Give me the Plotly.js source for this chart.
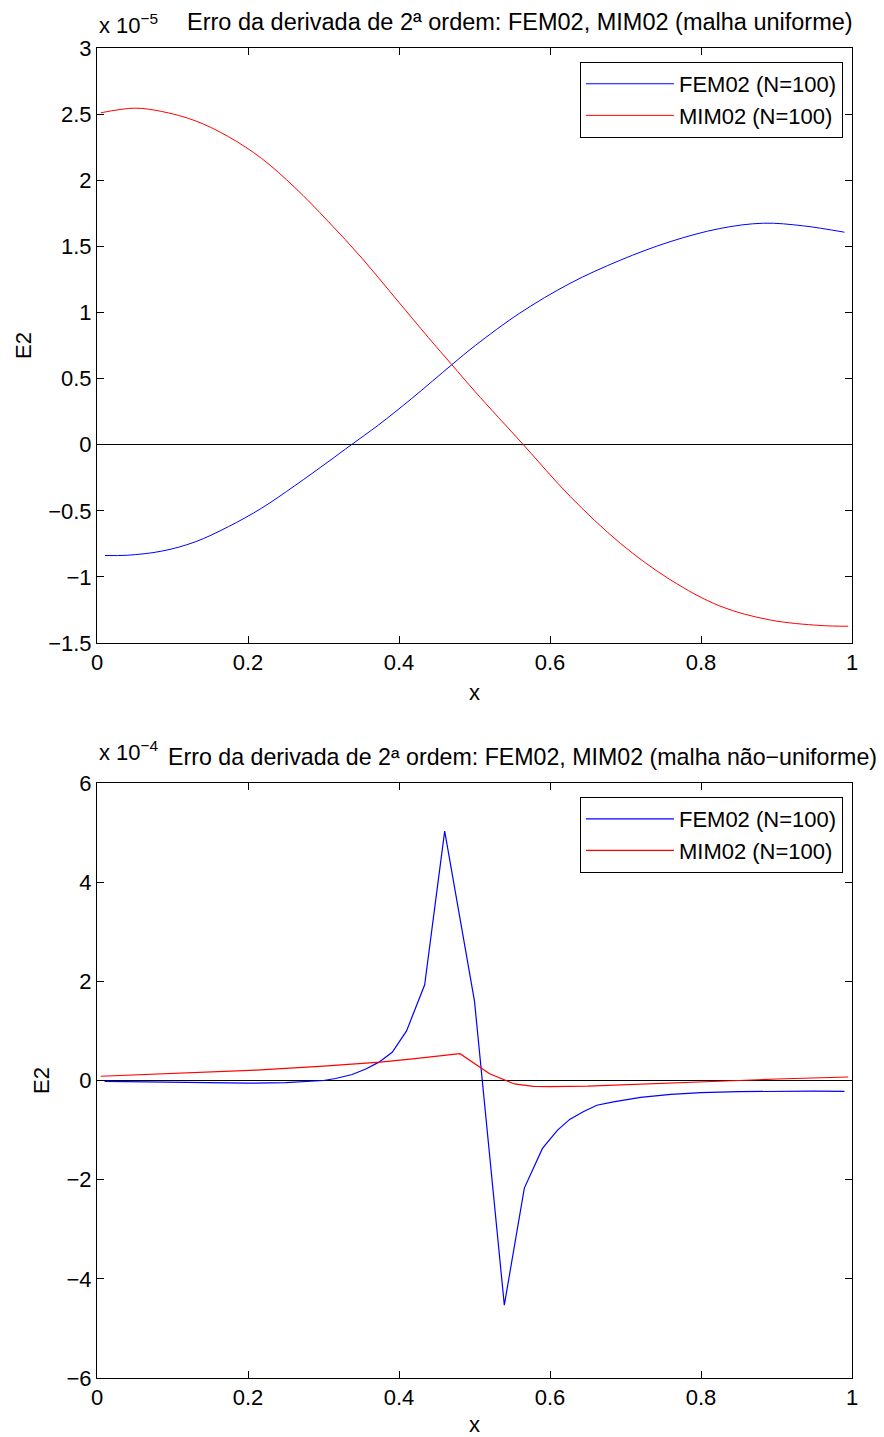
<!DOCTYPE html>
<html>
<head>
<meta charset="utf-8">
<script src="https://cdn.plot.ly/plotly-3.0.1.min.js"></script>
<style>html,body{margin:0;padding:0;background:#fff;}#chart{width:884px;height:1437px;}</style>
</head>
<body>
<div id="chart"></div>
<script>
// ---- Top panel: uniform mesh (values in units of 1e-5) ----
const topFemX = [0.0106, 0.04, 0.0857, 0.13, 0.174, 0.218, 0.262, 0.306, 0.337, 0.373, 0.417, 0.47, 0.501, 0.56, 0.6265, 0.693, 0.759, 0.825, 0.8826, 0.9355, 0.99];
const topFemY = [-0.838, -0.836, -0.805, -0.735, -0.62, -0.48, -0.31, -0.13, 0.0, 0.15, 0.35, 0.605, 0.75, 0.995, 1.22, 1.395, 1.535, 1.635, 1.675, 1.655, 1.607];
const topMimX = [0.005, 0.05, 0.0857, 0.13, 0.174, 0.218, 0.262, 0.306, 0.351, 0.395, 0.439, 0.47, 0.501, 0.5647, 0.6265, 0.693, 0.759, 0.825, 0.891, 0.9576, 0.995];
const topMimY = [2.51, 2.545, 2.52, 2.45, 2.33, 2.165, 1.945, 1.69, 1.41, 1.11, 0.81, 0.605, 0.40, 0.0, -0.39, -0.745, -1.02, -1.22, -1.325, -1.367, -1.373];

// ---- Bottom panel: non-uniform mesh (values in units of 1e-4) ----
const botFemX = [0.01, 0.05, 0.1, 0.15, 0.2, 0.25, 0.28, 0.30, 0.316, 0.338, 0.356, 0.3735, 0.391, 0.41, 0.434, 0.4605, 0.5, 0.5395, 0.566, 0.59, 0.61, 0.6265, 0.644, 0.662, 0.684, 0.72, 0.76, 0.8, 0.85, 0.9, 0.95, 0.99];
const botFemY = [-0.02, -0.03, -0.045, -0.055, -0.055, -0.045, -0.025, 0.0, 0.04, 0.12, 0.23, 0.37, 0.57, 1.0, 1.93, 5.03, 1.6, -4.53, -2.17, -1.37, -1.0, -0.78, -0.63, -0.5, -0.43, -0.34, -0.28, -0.245, -0.225, -0.215, -0.215, -0.22];
const botMimX = [0.005, 0.1, 0.211, 0.3, 0.344, 0.375, 0.415, 0.4475, 0.4808, 0.52, 0.553, 0.578, 0.6, 0.65, 0.7, 0.772, 0.85, 0.9, 0.995];
const botMimY = [0.085, 0.14, 0.21, 0.29, 0.33, 0.37, 0.43, 0.49, 0.54, 0.135, -0.07, -0.12, -0.125, -0.115, -0.09, -0.04, 0.0, 0.03, 0.07];

const xTickVals = [0, 0.2, 0.4, 0.6, 0.8, 1];
const xTickText = ['0', '0.2', '0.4', '0.6', '0.8', '1'];
const topYTickVals = [-1.5, -1, -0.5, 0, 0.5, 1, 1.5, 2, 2.5, 3];
const topYTickText = ['\u22121.5', '\u22121', '\u22120.5', '0', '0.5', '1', '1.5', '2', '2.5', '3'];
const botYTickVals = [-6, -4, -2, 0, 2, 4, 6];
const botYTickText = ['\u22126', '\u22124', '\u22122', '0', '2', '4', '6'];

const seriesNames = ['FEM02 (N=100)', 'MIM02 (N=100)'];
const topTitle = 'Erro da derivada de 2\u00aa ordem: FEM02, MIM02 (malha uniforme)';
const botTitle = 'Erro da derivada de 2\u00aa ordem: FEM02, MIM02 (malha n\u00e3o\u2212uniforme)';

const FONT = 'Liberation Sans, Arial, Helvetica, sans-serif';
const FS = 22;
const TFS = 23.5;

const traces = [
  {x: topFemX, y: topFemY, name: seriesNames[0], type: 'scatter', mode: 'lines', line: {color: '#0000ff', width: 1, shape: 'spline', smoothing: 1}, xaxis: 'x', yaxis: 'y', legend: 'legend'},
  {x: topMimX, y: topMimY, name: seriesNames[1], type: 'scatter', mode: 'lines', line: {color: '#ff0000', width: 1, shape: 'spline', smoothing: 1}, xaxis: 'x', yaxis: 'y', legend: 'legend'},
  {x: botFemX, y: botFemY, name: seriesNames[0], type: 'scatter', mode: 'lines', line: {color: '#0000ff', width: 1.2}, xaxis: 'x2', yaxis: 'y2', legend: 'legend2'},
  {x: botMimX, y: botMimY, name: seriesNames[1], type: 'scatter', mode: 'lines', line: {color: '#ff0000', width: 1.2}, xaxis: 'x2', yaxis: 'y2', legend: 'legend2'}
];

function xax(anchor) {
  return {domain: [0, 1], anchor: anchor, range: [0, 1], tickmode: 'array', tickvals: xTickVals, ticktext: xTickText,
    ticks: 'inside', ticklen: 7, tickcolor: '#000', showline: true, linecolor: '#000', linewidth: 1, mirror: 'allticks',
    showgrid: false, zeroline: false, tickfont: {family: FONT, size: FS, color: '#000'}, ticklabelstandoff: 0,
    title: {text: 'x', font: {family: FONT, size: FS, color: '#000'}, standoff: 10}};
}
function yax(anchor, domain, range, tv, tt) {
  return {domain: domain, anchor: anchor, range: range, tickmode: 'array', tickvals: tv, ticktext: tt,
    ticks: 'inside', ticklen: 7, tickcolor: '#000', showline: true, linecolor: '#000', linewidth: 1, mirror: 'allticks',
    showgrid: false, zeroline: true, zerolinecolor: '#000', zerolinewidth: 1,
    tickfont: {family: FONT, size: FS, color: '#000'}, ticklabelstandoff: 0,
    title: {text: 'E2', font: {family: FONT, size: FS, color: '#000'}, standoff: 10}};
}

const legendStyle = {xanchor: 'right', yanchor: 'top', bgcolor: '#fff', bordercolor: '#000', borderwidth: 1,
  font: {family: FONT, size: FS, color: '#000'}, itemwidth: 88, tracegroupgap: 0};

const layout = {
  width: 884, height: 1437,
  margin: {l: 97, r: 32, t: 48, b: 59},
  paper_bgcolor: '#fff', plot_bgcolor: '#fff',
  font: {family: FONT, size: FS, color: '#000'},
  showlegend: true,
  xaxis: xax('y'),
  yaxis: yax('x', [0.5526, 1], [-1.5, 3], topYTickVals, topYTickText),
  xaxis2: xax('y2'),
  yaxis2: yax('x2', [0, 0.4474], [-6, 6], botYTickVals, botYTickText),
  legend: Object.assign({x: 0.988, y: 0.9895}, legendStyle),
  legend2: Object.assign({x: 0.988, y: 0.4368}, legendStyle),
  annotations: [
    {xref: 'paper', yref: 'paper', x: 0.56, y: 1.0195, xanchor: 'center', yanchor: 'middle', showarrow: false, text: topTitle, font: {family: FONT, size: TFS, color: '#000'}},
    {xref: 'paper', yref: 'paper', x: 0.5635, y: 0.4669, xanchor: 'center', yanchor: 'middle', showarrow: false, text: botTitle, font: {family: FONT, size: 23.2, color: '#000'}},
    {xref: 'paper', yref: 'paper', x: 0, y: 1.006, xanchor: 'left', yanchor: 'bottom', showarrow: false, text: 'x 10<sup>\u22125</sup>', font: {family: FONT, size: FS, color: '#000'}},
    {xref: 'paper', yref: 'paper', x: 0, y: 0.4594, xanchor: 'left', yanchor: 'bottom', showarrow: false, text: 'x 10<sup>\u22124</sup>', font: {family: FONT, size: FS, color: '#000'}}
  ]
};

Plotly.newPlot('chart', traces, layout, {displayModeBar: false, staticPlot: true});
</script>
</body>
</html>
